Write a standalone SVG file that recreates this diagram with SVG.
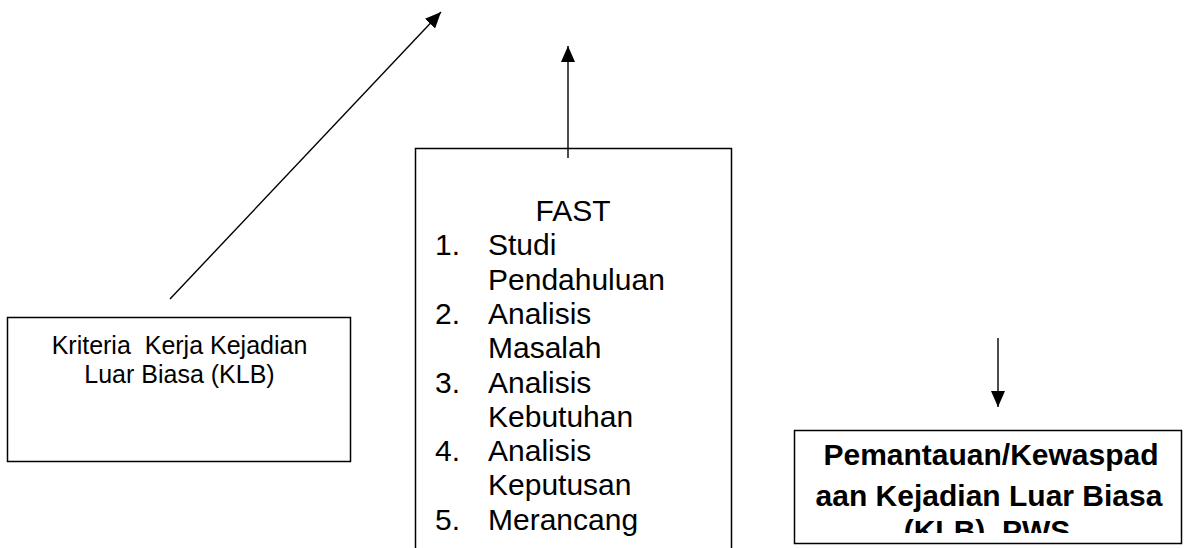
<svg xmlns="http://www.w3.org/2000/svg" width="1184" height="548" viewBox="0 0 1184 548">
  <style>
    .box { fill: #ffffff; stroke: #000000; stroke-width: 1.5; }
    .link { fill: none; stroke: #000000; stroke-width: 1.4; }
    .txt { font-family: "Liberation Sans", Arial, sans-serif; fill: #000000; }
    .small { font-size: 25px; }
    .list { font-size: 30px; }
    .bold { font-size: 30px; font-weight: bold; }
  </style>
  <defs>
    <marker id="arrow" markerUnits="userSpaceOnUse" markerWidth="16" markerHeight="14" refX="16" refY="7" orient="auto">
      <path d="M0,0 L16,7 L0,14 Z" fill="#000000"/>
    </marker>
    <!-- text frame of the PWS box: the last line overflows and is cut -->
    <clipPath id="pwsClip">
      <rect x="795" y="431" width="386" height="102"/>
    </clipPath>
  </defs>

  <rect width="1184" height="548" fill="#ffffff"/>

  <g id="connectors">
    <line class="link" x1="170" y1="299" x2="441" y2="12" marker-end="url(#arrow)"/>
    <line class="link" x1="568" y1="158" x2="568" y2="46" marker-end="url(#arrow)"/>
    <line class="link" x1="998" y1="338" x2="998" y2="407" marker-end="url(#arrow)"/>
  </g>

  <g id="kriteria">
    <rect class="box" x="7.5" y="317.5" width="343" height="144"/>
    <text class="txt small" text-anchor="middle" x="179.5" y="354" xml:space="preserve">Kriteria  Kerja Kejadian</text>
    <text class="txt small" text-anchor="middle" x="179.5" y="383">Luar Biasa (KLB)</text>
  </g>

  <g id="fast">
    <path class="box" d="M415.5,560 L415.5,148.5 L731.5,148.5 L731.5,560"/>
    <line class="link" x1="568" y1="148" x2="568" y2="158"/>
    <text class="txt list" text-anchor="middle" x="573" y="221">FAST</text>
    <g class="txt list">
      <text x="435" y="255">1.</text>
      <text x="488" y="255">Studi</text>
      <text x="488" y="290">Pendahuluan</text>
      <text x="435" y="324">2.</text>
      <text x="488" y="324">Analisis</text>
      <text x="488" y="358">Masalah</text>
      <text x="435" y="393">3.</text>
      <text x="488" y="393">Analisis</text>
      <text x="488" y="427">Kebutuhan</text>
      <text x="435" y="461">4.</text>
      <text x="488" y="461">Analisis</text>
      <text x="488" y="495">Keputusan</text>
      <text x="435" y="530">5.</text>
      <text x="488" y="530">Merancang</text>
    </g>
  </g>

  <g id="pws">
    <rect class="box" x="794.5" y="430.5" width="387" height="113"/>
    <g class="txt bold" text-anchor="middle" clip-path="url(#pwsClip)">
      <text x="991" y="465">Pemantauan/Kewaspad</text>
      <text x="989" y="506">aan Kejadian Luar Biasa</text>
      <text x="987" y="541" xml:space="preserve">(KLB)  PWS</text>
    </g>
  </g>
</svg>
